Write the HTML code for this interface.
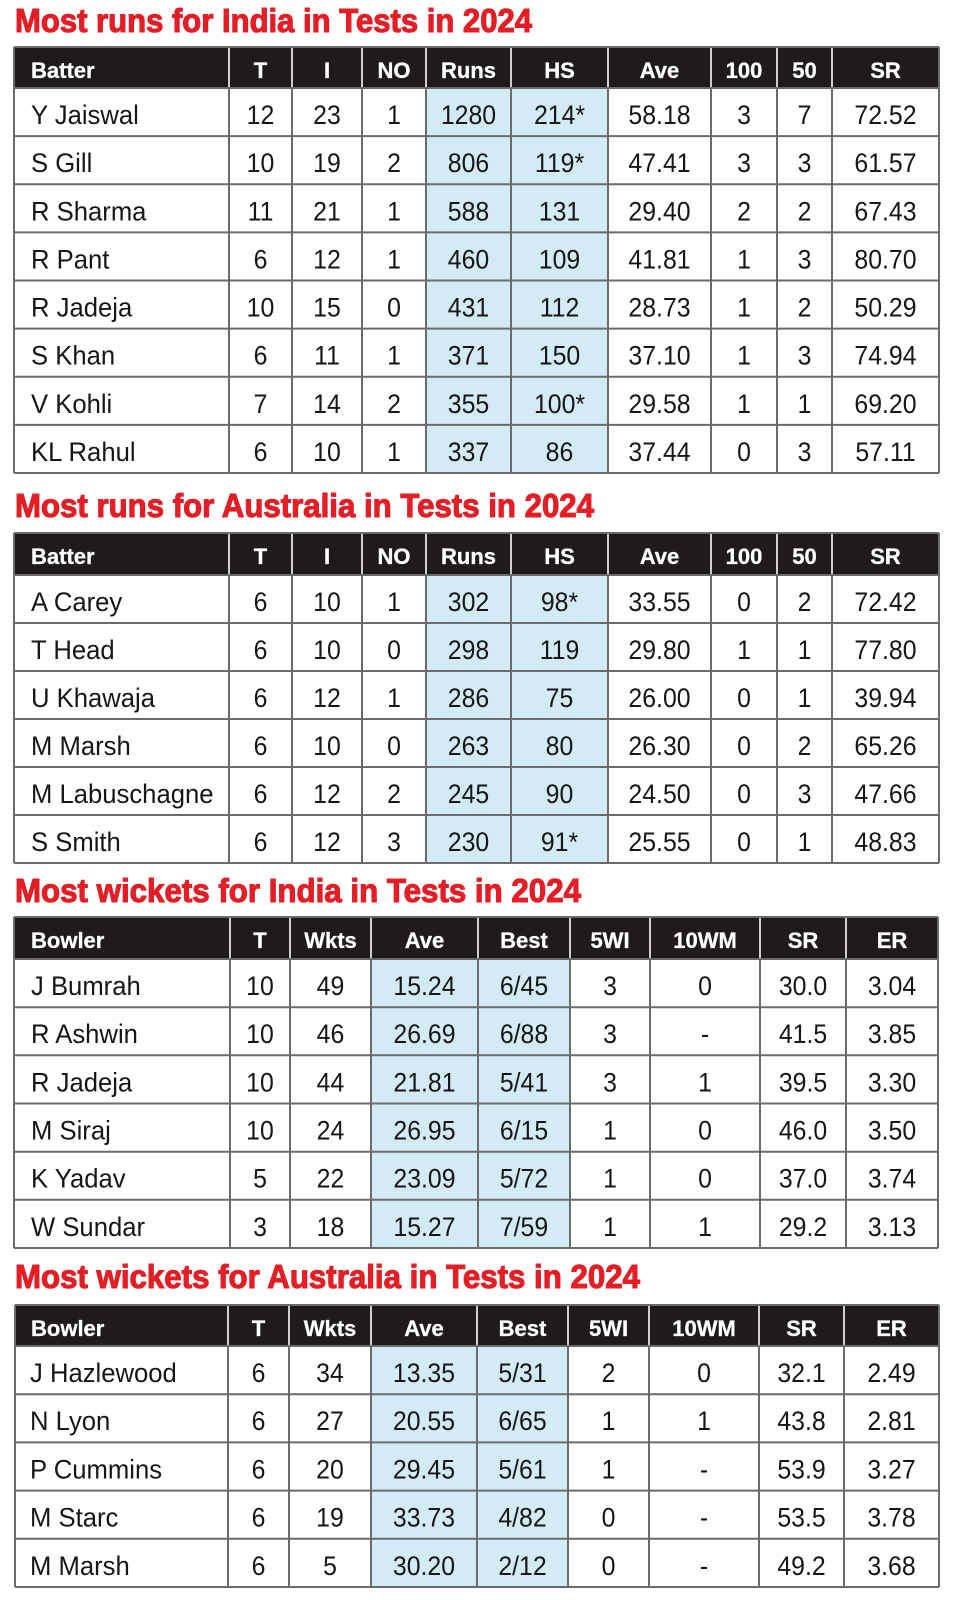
<!DOCTYPE html>
<html>
<head>
<meta charset="utf-8">
<style>
html,body{margin:0;padding:0;background:#fff;}
svg{display:block;}
.ti{font-family:"Liberation Sans",sans-serif;font-weight:bold;font-size:33px;fill:#e21f26;stroke:#e21f26;stroke-width:1.1px;}
.h{font-family:"Liberation Sans",sans-serif;font-weight:bold;font-size:22px;fill:#fff;stroke:#fff;stroke-width:0.3px;text-anchor:middle;}
.hl{font-family:"Liberation Sans",sans-serif;font-weight:bold;font-size:22px;fill:#fff;stroke:#fff;stroke-width:0.3px;}
.n{font-family:"Liberation Sans",sans-serif;font-size:27px;fill:#161616;transform-box:fill-box;transform-origin:0 50%;transform:scaleX(.95);}
.t{font-family:"Liberation Sans",sans-serif;font-size:27px;fill:#161616;text-anchor:middle;transform-box:fill-box;transform-origin:50% 50%;transform:scaleX(.92);}
.g{stroke:#6b6b6b;stroke-width:2;fill:none;}
.s{stroke:#cfcfcf;stroke-width:2;fill:none;}
</style>
</head>
<body>
<svg width="957" height="1600" viewBox="0 0 957 1600" xmlns="http://www.w3.org/2000/svg">
<rect width="957" height="1600" fill="#fff"/>

<!-- ============ TABLE 1 ============ -->
<text class="ti" x="15" y="32" textLength="517" lengthAdjust="spacingAndGlyphs">Most runs for India in Tests in 2024</text>
<rect x="14" y="47" width="925" height="41" fill="#1f1b1b"/>
<rect x="426" y="88" width="182" height="385" fill="#d2ebf5"/>
<path class="s" d="M229 47V88M292 47V88M362 47V88M426 47V88M511 47V88M608 47V88M711 47V88M777 47V88M832 47V88"/>
<path class="g" d="M14 88H939M14 136.1H939M14 184.3H939M14 232.4H939M14 280.5H939M14 328.6H939M14 376.8H939M14 424.9H939M14 473H939
M229 88V473M292 88V473M362 88V473M426 88V473M511 88V473M608 88V473M711 88V473M777 88V473M832 88V473
M14 47V473M939 47V473M14 47H939"/>
<text class="hl" x="31" y="78">Batter</text>
<text class="h" x="260.5" y="78">T</text>
<text class="h" x="327" y="78">I</text>
<text class="h" x="394" y="78">NO</text>
<text class="h" x="468.5" y="78">Runs</text>
<text class="h" x="559.5" y="78">HS</text>
<text class="h" x="659.5" y="78">Ave</text>
<text class="h" x="744" y="78">100</text>
<text class="h" x="804.5" y="78">50</text>
<text class="h" x="885.5" y="78">SR</text>

<g>
<text class="n" x="31" y="124">Y Jaiswal</text>
<text class="t" x="260.5" y="124">12</text><text class="t" x="327" y="124">23</text><text class="t" x="394" y="124">1</text><text class="t" x="468.5" y="124">1280</text><text class="t" x="559.5" y="124">214*</text><text class="t" x="659.5" y="124">58.18</text><text class="t" x="744" y="124">3</text><text class="t" x="804.5" y="124">7</text><text class="t" x="885.5" y="124">72.52</text>

<text class="n" x="31" y="172.1">S Gill</text>
<text class="t" x="260.5" y="172.1">10</text><text class="t" x="327" y="172.1">19</text><text class="t" x="394" y="172.1">2</text><text class="t" x="468.5" y="172.1">806</text><text class="t" x="559.5" y="172.1">119*</text><text class="t" x="659.5" y="172.1">47.41</text><text class="t" x="744" y="172.1">3</text><text class="t" x="804.5" y="172.1">3</text><text class="t" x="885.5" y="172.1">61.57</text>

<text class="n" x="31" y="220.3">R Sharma</text>
<text class="t" x="260.5" y="220.3">11</text><text class="t" x="327" y="220.3">21</text><text class="t" x="394" y="220.3">1</text><text class="t" x="468.5" y="220.3">588</text><text class="t" x="559.5" y="220.3">131</text><text class="t" x="659.5" y="220.3">29.40</text><text class="t" x="744" y="220.3">2</text><text class="t" x="804.5" y="220.3">2</text><text class="t" x="885.5" y="220.3">67.43</text>

<text class="n" x="31" y="268.4">R Pant</text>
<text class="t" x="260.5" y="268.4">6</text><text class="t" x="327" y="268.4">12</text><text class="t" x="394" y="268.4">1</text><text class="t" x="468.5" y="268.4">460</text><text class="t" x="559.5" y="268.4">109</text><text class="t" x="659.5" y="268.4">41.81</text><text class="t" x="744" y="268.4">1</text><text class="t" x="804.5" y="268.4">3</text><text class="t" x="885.5" y="268.4">80.70</text>

<text class="n" x="31" y="316.5">R Jadeja</text>
<text class="t" x="260.5" y="316.5">10</text><text class="t" x="327" y="316.5">15</text><text class="t" x="394" y="316.5">0</text><text class="t" x="468.5" y="316.5">431</text><text class="t" x="559.5" y="316.5">112</text><text class="t" x="659.5" y="316.5">28.73</text><text class="t" x="744" y="316.5">1</text><text class="t" x="804.5" y="316.5">2</text><text class="t" x="885.5" y="316.5">50.29</text>

<text class="n" x="31" y="364.6">S Khan</text>
<text class="t" x="260.5" y="364.6">6</text><text class="t" x="327" y="364.6">11</text><text class="t" x="394" y="364.6">1</text><text class="t" x="468.5" y="364.6">371</text><text class="t" x="559.5" y="364.6">150</text><text class="t" x="659.5" y="364.6">37.10</text><text class="t" x="744" y="364.6">1</text><text class="t" x="804.5" y="364.6">3</text><text class="t" x="885.5" y="364.6">74.94</text>

<text class="n" x="31" y="412.8">V Kohli</text>
<text class="t" x="260.5" y="412.8">7</text><text class="t" x="327" y="412.8">14</text><text class="t" x="394" y="412.8">2</text><text class="t" x="468.5" y="412.8">355</text><text class="t" x="559.5" y="412.8">100*</text><text class="t" x="659.5" y="412.8">29.58</text><text class="t" x="744" y="412.8">1</text><text class="t" x="804.5" y="412.8">1</text><text class="t" x="885.5" y="412.8">69.20</text>

<text class="n" x="31" y="460.9">KL Rahul</text>
<text class="t" x="260.5" y="460.9">6</text><text class="t" x="327" y="460.9">10</text><text class="t" x="394" y="460.9">1</text><text class="t" x="468.5" y="460.9">337</text><text class="t" x="559.5" y="460.9">86</text><text class="t" x="659.5" y="460.9">37.44</text><text class="t" x="744" y="460.9">0</text><text class="t" x="804.5" y="460.9">3</text><text class="t" x="885.5" y="460.9">57.11</text>
</g>

<!-- ============ TABLE 2 ============ -->
<text class="ti" x="15" y="517" textLength="579" lengthAdjust="spacingAndGlyphs">Most runs for Australia in Tests in 2024</text>
<rect x="14" y="533" width="925" height="42" fill="#1f1b1b"/>
<rect x="426" y="575" width="182" height="288" fill="#d2ebf5"/>
<path class="s" d="M229 533V575M292 533V575M362 533V575M426 533V575M511 533V575M608 533V575M711 533V575M777 533V575M832 533V575"/>
<path class="g" d="M14 575H939M14 623H939M14 671H939M14 719H939M14 767H939M14 815H939M14 863H939
M229 575V863M292 575V863M362 575V863M426 575V863M511 575V863M608 575V863M711 575V863M777 575V863M832 575V863
M14 533V863M939 533V863M14 533H939"/>
<text class="hl" x="31" y="564">Batter</text>
<text class="h" x="260.5" y="564">T</text>
<text class="h" x="327" y="564">I</text>
<text class="h" x="394" y="564">NO</text>
<text class="h" x="468.5" y="564">Runs</text>
<text class="h" x="559.5" y="564">HS</text>
<text class="h" x="659.5" y="564">Ave</text>
<text class="h" x="744" y="564">100</text>
<text class="h" x="804.5" y="564">50</text>
<text class="h" x="885.5" y="564">SR</text>

<text class="n" x="31" y="611">A Carey</text>
<text class="t" x="260.5" y="611">6</text><text class="t" x="327" y="611">10</text><text class="t" x="394" y="611">1</text><text class="t" x="468.5" y="611">302</text><text class="t" x="559.5" y="611">98*</text><text class="t" x="659.5" y="611">33.55</text><text class="t" x="744" y="611">0</text><text class="t" x="804.5" y="611">2</text><text class="t" x="885.5" y="611">72.42</text>

<text class="n" x="31" y="659">T Head</text>
<text class="t" x="260.5" y="659">6</text><text class="t" x="327" y="659">10</text><text class="t" x="394" y="659">0</text><text class="t" x="468.5" y="659">298</text><text class="t" x="559.5" y="659">119</text><text class="t" x="659.5" y="659">29.80</text><text class="t" x="744" y="659">1</text><text class="t" x="804.5" y="659">1</text><text class="t" x="885.5" y="659">77.80</text>

<text class="n" x="31" y="707">U Khawaja</text>
<text class="t" x="260.5" y="707">6</text><text class="t" x="327" y="707">12</text><text class="t" x="394" y="707">1</text><text class="t" x="468.5" y="707">286</text><text class="t" x="559.5" y="707">75</text><text class="t" x="659.5" y="707">26.00</text><text class="t" x="744" y="707">0</text><text class="t" x="804.5" y="707">1</text><text class="t" x="885.5" y="707">39.94</text>

<text class="n" x="31" y="755">M Marsh</text>
<text class="t" x="260.5" y="755">6</text><text class="t" x="327" y="755">10</text><text class="t" x="394" y="755">0</text><text class="t" x="468.5" y="755">263</text><text class="t" x="559.5" y="755">80</text><text class="t" x="659.5" y="755">26.30</text><text class="t" x="744" y="755">0</text><text class="t" x="804.5" y="755">2</text><text class="t" x="885.5" y="755">65.26</text>

<text class="n" x="31" y="803">M Labuschagne</text>
<text class="t" x="260.5" y="803">6</text><text class="t" x="327" y="803">12</text><text class="t" x="394" y="803">2</text><text class="t" x="468.5" y="803">245</text><text class="t" x="559.5" y="803">90</text><text class="t" x="659.5" y="803">24.50</text><text class="t" x="744" y="803">0</text><text class="t" x="804.5" y="803">3</text><text class="t" x="885.5" y="803">47.66</text>

<text class="n" x="31" y="851">S Smith</text>
<text class="t" x="260.5" y="851">6</text><text class="t" x="327" y="851">12</text><text class="t" x="394" y="851">3</text><text class="t" x="468.5" y="851">230</text><text class="t" x="559.5" y="851">91*</text><text class="t" x="659.5" y="851">25.55</text><text class="t" x="744" y="851">0</text><text class="t" x="804.5" y="851">1</text><text class="t" x="885.5" y="851">48.83</text>

<!-- ============ TABLE 3 ============ -->
<text class="ti" x="15" y="902" textLength="566" lengthAdjust="spacingAndGlyphs">Most wickets for India in Tests in 2024</text>
<rect x="14" y="917" width="924" height="42" fill="#1f1b1b"/>
<rect x="371" y="959" width="199" height="289" fill="#d2ebf5"/>
<path class="s" d="M230 917V959M290 917V959M371 917V959M478 917V959M570 917V959M650 917V959M760 917V959M846 917V959"/>
<path class="g" d="M14 959H938M14 1007.2H938M14 1055.3H938M14 1103.5H938M14 1151.7H938M14 1199.8H938M14 1248H938
M230 959V1248M290 959V1248M371 959V1248M478 959V1248M570 959V1248M650 959V1248M760 959V1248M846 959V1248
M14 917V1248M938 917V1248M14 917H938"/>
<text class="hl" x="31" y="948">Bowler</text>
<text class="h" x="260" y="948">T</text>
<text class="h" x="330.5" y="948">Wkts</text>
<text class="h" x="424.5" y="948">Ave</text>
<text class="h" x="524" y="948">Best</text>
<text class="h" x="610" y="948">5WI</text>
<text class="h" x="705" y="948">10WM</text>
<text class="h" x="803" y="948">SR</text>
<text class="h" x="892" y="948">ER</text>

<text class="n" x="31" y="995">J Bumrah</text>
<text class="t" x="260" y="995">10</text><text class="t" x="330.5" y="995">49</text><text class="t" x="424.5" y="995">15.24</text><text class="t" x="524" y="995">6/45</text><text class="t" x="610" y="995">3</text><text class="t" x="705" y="995">0</text><text class="t" x="803" y="995">30.0</text><text class="t" x="892" y="995">3.04</text>

<text class="n" x="31" y="1043.2">R Ashwin</text>
<text class="t" x="260" y="1043.2">10</text><text class="t" x="330.5" y="1043.2">46</text><text class="t" x="424.5" y="1043.2">26.69</text><text class="t" x="524" y="1043.2">6/88</text><text class="t" x="610" y="1043.2">3</text><text class="t" x="705" y="1043.2">-</text><text class="t" x="803" y="1043.2">41.5</text><text class="t" x="892" y="1043.2">3.85</text>

<text class="n" x="31" y="1091.3">R Jadeja</text>
<text class="t" x="260" y="1091.3">10</text><text class="t" x="330.5" y="1091.3">44</text><text class="t" x="424.5" y="1091.3">21.81</text><text class="t" x="524" y="1091.3">5/41</text><text class="t" x="610" y="1091.3">3</text><text class="t" x="705" y="1091.3">1</text><text class="t" x="803" y="1091.3">39.5</text><text class="t" x="892" y="1091.3">3.30</text>

<text class="n" x="31" y="1139.5">M Siraj</text>
<text class="t" x="260" y="1139.5">10</text><text class="t" x="330.5" y="1139.5">24</text><text class="t" x="424.5" y="1139.5">26.95</text><text class="t" x="524" y="1139.5">6/15</text><text class="t" x="610" y="1139.5">1</text><text class="t" x="705" y="1139.5">0</text><text class="t" x="803" y="1139.5">46.0</text><text class="t" x="892" y="1139.5">3.50</text>

<text class="n" x="31" y="1187.7">K Yadav</text>
<text class="t" x="260" y="1187.7">5</text><text class="t" x="330.5" y="1187.7">22</text><text class="t" x="424.5" y="1187.7">23.09</text><text class="t" x="524" y="1187.7">5/72</text><text class="t" x="610" y="1187.7">1</text><text class="t" x="705" y="1187.7">0</text><text class="t" x="803" y="1187.7">37.0</text><text class="t" x="892" y="1187.7">3.74</text>

<text class="n" x="31" y="1235.8">W Sundar</text>
<text class="t" x="260" y="1235.8">3</text><text class="t" x="330.5" y="1235.8">18</text><text class="t" x="424.5" y="1235.8">15.27</text><text class="t" x="524" y="1235.8">7/59</text><text class="t" x="610" y="1235.8">1</text><text class="t" x="705" y="1235.8">1</text><text class="t" x="803" y="1235.8">29.2</text><text class="t" x="892" y="1235.8">3.13</text>

<!-- ============ TABLE 4 ============ -->
<text class="ti" x="15" y="1288" textLength="625" lengthAdjust="spacingAndGlyphs">Most wickets for Australia in Tests in 2024</text>
<rect x="15" y="1305" width="924" height="41" fill="#1f1b1b"/>
<rect x="371" y="1346" width="197" height="241" fill="#d2ebf5"/>
<path class="s" d="M228 1305V1346M289 1305V1346M371 1305V1346M477 1305V1346M568 1305V1346M649 1305V1346M759 1305V1346M844 1305V1346"/>
<path class="g" d="M15 1346H939M15 1394.2H939M15 1442.4H939M15 1490.6H939M15 1538.8H939M15 1587H939
M228 1346V1587M289 1346V1587M371 1346V1587M477 1346V1587M568 1346V1587M649 1346V1587M759 1346V1587M844 1346V1587
M15 1305V1587M939 1305V1587M15 1305H939"/>
<text class="hl" x="31" y="1336">Bowler</text>
<text class="h" x="258.5" y="1336">T</text>
<text class="h" x="330" y="1336">Wkts</text>
<text class="h" x="424" y="1336">Ave</text>
<text class="h" x="522.5" y="1336">Best</text>
<text class="h" x="608.5" y="1336">5WI</text>
<text class="h" x="704" y="1336">10WM</text>
<text class="h" x="801.5" y="1336">SR</text>
<text class="h" x="891.5" y="1336">ER</text>

<text class="n" x="30" y="1382">J Hazlewood</text>
<text class="t" x="258.5" y="1382">6</text><text class="t" x="330" y="1382">34</text><text class="t" x="424" y="1382">13.35</text><text class="t" x="522.5" y="1382">5/31</text><text class="t" x="608.5" y="1382">2</text><text class="t" x="704" y="1382">0</text><text class="t" x="801.5" y="1382">32.1</text><text class="t" x="891.5" y="1382">2.49</text>

<text class="n" x="30" y="1430.2">N Lyon</text>
<text class="t" x="258.5" y="1430.2">6</text><text class="t" x="330" y="1430.2">27</text><text class="t" x="424" y="1430.2">20.55</text><text class="t" x="522.5" y="1430.2">6/65</text><text class="t" x="608.5" y="1430.2">1</text><text class="t" x="704" y="1430.2">1</text><text class="t" x="801.5" y="1430.2">43.8</text><text class="t" x="891.5" y="1430.2">2.81</text>

<text class="n" x="30" y="1478.4">P Cummins</text>
<text class="t" x="258.5" y="1478.4">6</text><text class="t" x="330" y="1478.4">20</text><text class="t" x="424" y="1478.4">29.45</text><text class="t" x="522.5" y="1478.4">5/61</text><text class="t" x="608.5" y="1478.4">1</text><text class="t" x="704" y="1478.4">-</text><text class="t" x="801.5" y="1478.4">53.9</text><text class="t" x="891.5" y="1478.4">3.27</text>

<text class="n" x="30" y="1526.6">M Starc</text>
<text class="t" x="258.5" y="1526.6">6</text><text class="t" x="330" y="1526.6">19</text><text class="t" x="424" y="1526.6">33.73</text><text class="t" x="522.5" y="1526.6">4/82</text><text class="t" x="608.5" y="1526.6">0</text><text class="t" x="704" y="1526.6">-</text><text class="t" x="801.5" y="1526.6">53.5</text><text class="t" x="891.5" y="1526.6">3.78</text>

<text class="n" x="30" y="1574.8">M Marsh</text>
<text class="t" x="258.5" y="1574.8">6</text><text class="t" x="330" y="1574.8">5</text><text class="t" x="424" y="1574.8">30.20</text><text class="t" x="522.5" y="1574.8">2/12</text><text class="t" x="608.5" y="1574.8">0</text><text class="t" x="704" y="1574.8">-</text><text class="t" x="801.5" y="1574.8">49.2</text><text class="t" x="891.5" y="1574.8">3.68</text>
</svg>
</body>
</html>
